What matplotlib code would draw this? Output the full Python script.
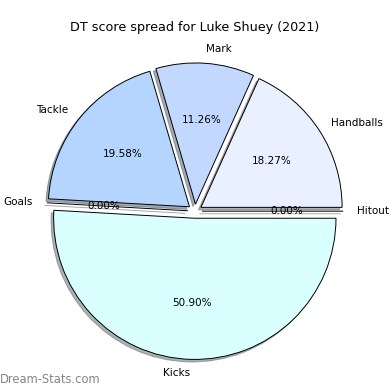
import matplotlib
matplotlib.use('Agg')
from matplotlib import pyplot as plt

# DT score spread pie
labels = ['Handballs', 'Mark', 'Tackle', 'Goals', 'Kicks', 'Hitout']
values = [18.27, 11.26, 19.58, 0.0, 50.91, 0.0]
colors = ['#e9f0ff', '#c3d8ff', '#b3d5ff', '#b3d5ff', '#d9ffff', '#e9f0ff']
explode = [0.05] * len(values)

fig = plt.figure(figsize=(3.9, 3.9), dpi=100)
ax = fig.add_axes([0.005, 0.006, 0.99, 0.905])
ax.pie(values, labels=labels, colors=colors, explode=explode, startangle=0,
       autopct='%.2f%%', shadow={'ox': -0.013, 'oy': -0.013, 'shade': 0.6},
       wedgeprops={'edgecolor': 'black', 'linewidth': 0.7},
       textprops={'fontsize': 7.5})
ax.set_title('DT score spread for Luke Shuey (2021)', fontsize=9.2, pad=3)
fig.text(0.0, 0.018, 'Dream-Stats.com', color='#858585', fontsize=8.3)
plt.savefig('out.png')
